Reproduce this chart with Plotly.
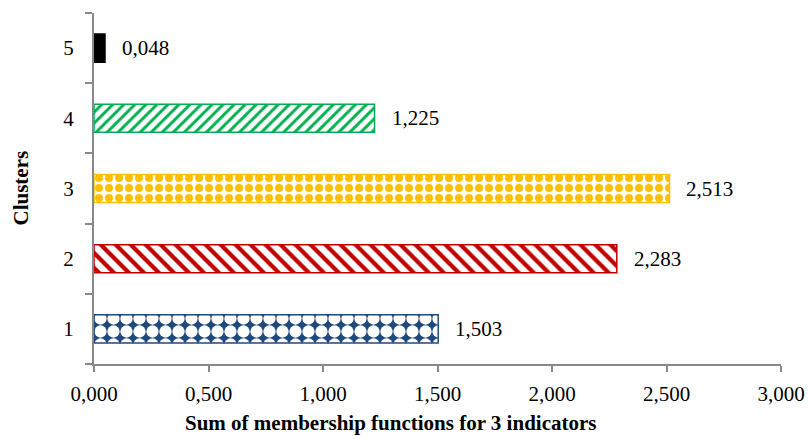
import plotly.graph_objects as go

clusters = [1, 2, 3, 4, 5]
values = [1.503, 2.283, 2.513, 1.225, 0.048]
value_labels = ["1,503", "2,283", "2,513", "1,225", "0,048"]
x_tickvals = [0, 0.5, 1.0, 1.5, 2.0, 2.5, 3.0]
x_ticktext = ["0,000", "0,500", "1,000", "1,500", "2,000", "2,500", "3,000"]

colors = ["#1F497D", "#C00000", "#FFC000", "#00B050", "#000000"]
patterns = [
    dict(shape=".", bgcolor="#1F497D", fgcolor="#FFFFFF", size=13, solidity=0.7, fillmode="replace"),
    dict(shape="\\", bgcolor="#FFFFFF", fgcolor="#C00000", size=10.6, solidity=0.4, fillmode="replace"),
    dict(shape=".", bgcolor="#FFFFFF", fgcolor="#FFC000", size=10, solidity=0.5, fillmode="replace"),
    dict(shape="/", bgcolor="#FFFFFF", fgcolor="#00B050", size=7.8, solidity=0.38, fillmode="replace"),
    dict(shape="", bgcolor="#000000", fgcolor="#000000"),
]

FONT = "Liberation Serif"
FS = 21

fig = go.Figure()
for i in range(len(clusters)):
    fig.add_trace(go.Bar(
        x=[values[i]], y=[clusters[i]], orientation="h", width=0.4,
        marker=dict(color=colors[i], pattern=patterns[i],
                    line=dict(color=colors[i], width=1.5)),
        showlegend=False, hoverinfo="skip",
    ))
    fig.add_annotation(x=values[i], y=clusters[i], text=value_labels[i],
                       xanchor="left", yanchor="middle", xshift=15, showarrow=False,
                       font=dict(family=FONT, size=FS, color="#000000"))

fig.add_annotation(xref="paper", yref="paper", x=0.5, xshift=-47, y=0.0, yshift=-59,
                   yanchor="middle", xanchor="center",
                   text="<b>Sum of membership functions for 3 indicators</b>",
                   showarrow=False, font=dict(family=FONT, size=FS, color="#000000"))
fig.add_annotation(xref="paper", yref="paper", x=0, xshift=-74, y=0.5, textangle=-90,
                   xanchor="center", yanchor="middle", text="<b>Clusters</b>",
                   showarrow=False, font=dict(family=FONT, size=FS, color="#000000"))

axis_gray = "#898989"
fig.update_layout(
    width=808, height=436,
    margin=dict(l=94, r=27, t=13, b=72),
    plot_bgcolor="white", paper_bgcolor="white",
    font=dict(family=FONT, size=FS, color="#000000"),
    xaxis=dict(range=[0, 3], tickvals=x_tickvals, ticktext=x_ticktext, automargin=False,
               showgrid=False, zeroline=False, showline=True, linecolor=axis_gray,
               linewidth=2, ticks="outside", ticklen=6, tickwidth=2, tickcolor=axis_gray,
               ticklabelstandoff=4),
    yaxis=dict(range=[0.5, 5.5], tickvals=clusters, ticktext=[str(c) for c in clusters],
               automargin=False,
               showgrid=False, zeroline=False, showline=True, linecolor=axis_gray,
               linewidth=2, ticks="", ticklabelstandoff=14,
               minor=dict(tickvals=[0.5, 1.5, 2.5, 3.5, 4.5, 5.5], ticks="outside",
                          ticklen=7, tickwidth=2, tickcolor=axis_gray, showgrid=False)),
)

fig.write_html("out.html")
